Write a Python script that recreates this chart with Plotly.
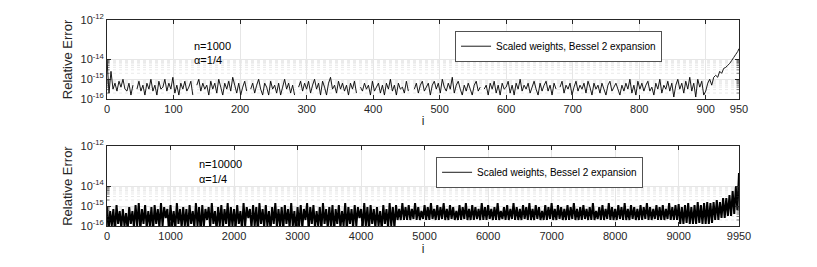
import plotly.graph_objects as go

# ---------------- data (log10 of relative error; None = exact zero / gap) ----------------
i_top = list(range(0, 949, 3)) + [950]
log_err_top = [
    -14.0, -15.7, -14.6, -15.5, -15.2, -15.6, -15.1, -15.4, -15.0, -15.5,
    -15.6, -15.2, -15.8, -15.3, None, -15.5, -15.1, -15.6, -15.3, -15.8,
    -15.2, -15.5, -15.0, -15.6, -15.3, -15.8, -15.1, -15.5, -15.4, -15.0,
    -15.6, -15.2, -15.5, -14.9, -15.7, -15.3, -15.8, -15.2, -15.5, -15.1,
    -15.6, -15.4, -15.1, -15.8, None, -15.3, -15.0, -15.6, -15.2, -15.5,
    -15.3, -15.8, -15.1, -15.5, -15.2, -15.7, -15.0, -15.4, -15.8, -15.2,
    -15.5, -15.1, -15.6, -14.9, -15.3, -15.7, -15.2, -15.8, -15.4, -15.1,
    -15.6, None, -15.5, -15.2, -15.7, -15.3, -15.0, -15.5, -15.8, -15.2,
    -15.4, -15.8, -15.1, -15.5, -15.3, -15.7, -15.2, -15.8, -15.4, -15.0,
    -15.5, -15.2, -15.7, -15.3, -15.8, None, -15.4, -15.1, -15.6, -15.2,
    -15.5, -15.1, -15.7, -15.3, -15.0, -15.5, -15.2, -15.8, -15.1, -15.4,
    -15.8, -15.2, -14.9, -15.5, -15.3, -15.7, -15.1, -15.5, -15.2, -15.6,
    -15.3, -15.8, -15.2, -15.5, -15.1, -15.7, None, -15.4, -15.6, -15.2,
    -15.5, -15.3, -15.8, -15.1, -15.6, -15.4, -15.2, -15.7, -15.3, -15.8,
    -15.2, -15.5, -15.0, -15.6, -15.3, -15.8, -15.2, -15.5, -15.4, -15.7,
    -15.1, -15.6, None, None, -15.5, -15.2, -15.7, -15.3, -15.1, -15.6,
    -15.4, -15.2, -15.8, -15.3, -15.1, -15.5, -15.2, -15.7, -15.0, -15.4,
    -15.6, -15.2, -15.5, -14.9, -15.7, -15.3, -15.1, -15.5, -15.8, -15.3,
    -15.6, -15.2, -15.5, -15.8, -15.3, -15.1, -15.6, -15.4, None, -15.5,
    -15.3, -15.8, -15.2, -15.5, -15.1, -15.7, -15.3, -15.8, -15.2, -15.5,
    -15.4, -15.1, -15.7, -15.3, -15.8, -15.2, -15.5, -15.0, -15.6, -15.3,
    -15.5, -15.2, -15.7, -15.4, -15.1, -15.5, -15.8, -15.2, -15.6, -15.3,
    -15.1, -15.6, -15.3, -15.8, -15.2, -15.5, None, -15.4, -15.1, -15.7,
    -15.3, -15.5, -15.2, -15.8, -15.4, -15.1, -15.6, -15.3, -15.5, -15.2,
    -15.7, -15.1, -15.4, -15.8, -15.2, -15.5, -15.3, -15.7, -15.2, -15.5,
    -15.8, -15.3, -15.1, -15.6, -15.4, -15.2, -15.5, -15.8, -15.3, -15.6,
    -15.2, -15.5, -15.0, -15.7, -15.3, -15.8, -15.1, -15.5, -15.2, -15.6,
    -15.3, -15.1, -15.6, -15.4, -15.8, -15.2, -15.5, -15.0, -15.7, -15.3,
    -15.5, -15.1, -15.6, -15.2, -15.9, -15.3, -15.0, -15.5, -15.2, -15.7,
    -15.1, -15.5, -14.9, -15.6, -15.2, -15.9, -15.0, -15.4, -15.1, -15.8,
    -15.6, -15.2, -15.0, -15.3, -14.9, -14.8, -14.9, -14.6, -14.7, -14.45,
    -14.4, -14.3, -14.2, -14.05, -13.9, -13.75, -13.6, -13.45,
]

i_bot = list(range(0, 9951, 25))
log_err_bot = [
    -15.05, -16.2, -15.25, -16.0, -15.15, -16.3, -14.95, -15.9, -15.25, -16.1,
    -15.15, -16.0, -15.35, -16.2, -15.05, -15.9, -15.25, -16.1, -14.95, -16.0,
    -14.85, -16.2, -15.15, -15.9, -14.95, -16.1, -15.25, -16.0, -15.05, -16.3,
    -14.95, -15.9, -15.15, -16.1, -14.85, -16.0, -15.05, -15.6, -15.15, -16.2,
    -14.95, -16.0, -15.25, -16.2, -14.85, -15.9, -15.15, -16.1, -15.05, -16.0,
    -15.15, -16.2, -14.95, -15.9, -15.25, -16.1, -14.85, -16.0, -15.05, -16.3,
    -14.95, -16.0, -15.15, -15.7, -15.05, -16.1, -14.85, -15.9, -15.25, -16.2,
    -15.05, -16.0, -14.95, -16.1, -15.15, -15.9, -14.85, -16.2, -15.05, -16.0,
    -15.15, -16.1, -14.95, -15.9, -15.25, -16.2, -14.85, -16.0, -15.05, -15.6,
    -15.15, -16.1, -14.95, -16.0, -15.05, -16.3, -14.85, -15.9, -15.15, -16.1,
    -14.95, -16.0, -15.25, -16.2, -15.05, -15.9, -14.85, -16.1, -15.15, -16.0,
    -15.05, -16.2, -14.95, -15.9, -15.15, -16.1, -14.85, -16.0, -15.25, -16.3,
    -15.05, -16.0, -14.95, -16.1, -15.15, -15.7, -14.85, -16.2, -15.05, -15.9,
    -14.95, -16.1, -15.25, -16.0, -15.05, -16.2, -14.85, -15.9, -15.15, -16.1,
    -15.05, -16.0, -14.95, -16.3, -15.15, -15.9, -14.95, -16.1, -15.25, -16.0,
    -14.85, -16.2, -15.05, -15.9, -15.15, -16.1, -14.95, -16.0, -15.05, -15.6,
    -15.15, -16.1, -14.85, -16.0, -15.05, -16.2, -14.95, -15.9, -15.15, -16.1,
    -15.05, -16.0, -15.25, -16.2, -14.95, -15.9, -15.15, -16.1, -14.85, -16.0,
    -15.05, -16.1, -14.95, -15.7, -15.15, -15.7, -14.85, -15.7, -15.05, -15.7,
    -14.95, -15.7, -15.15, -15.65, -14.85, -15.7, -15.05, -15.7, -15.25, -15.65,
    -14.95, -15.7, -15.05, -15.7, -14.85, -15.65, -15.15, -15.7, -14.95, -15.7,
    -15.05, -15.65, -14.85, -15.7, -15.15, -15.7, -14.95, -15.65, -15.05, -15.7,
    -15.25, -15.7, -14.95, -15.7, -15.05, -15.65, -14.85, -15.7, -15.15, -15.7,
    -14.95, -15.7, -15.05, -15.65, -15.15, -15.7, -14.85, -15.7, -15.05, -15.7,
    -14.95, -15.65, -15.15, -15.7, -15.05, -15.7, -14.85, -15.7, -15.25, -15.65,
    -15.05, -15.7, -14.95, -15.7, -15.15, -15.65, -14.85, -15.7, -15.05, -15.7,
    -15.15, -15.7, -14.95, -15.65, -15.05, -15.7, -14.85, -15.7, -15.15, -15.7,
    -14.95, -15.65, -15.05, -15.7, -15.25, -15.7, -14.95, -15.7, -15.05, -15.65,
    -14.85, -15.7, -15.15, -15.7, -14.95, -15.65, -15.05, -15.7, -15.15, -15.7,
    -14.95, -15.7, -15.05, -15.65, -14.85, -15.7, -15.15, -15.7, -15.05, -15.7,
    -14.95, -15.65, -15.15, -15.7, -15.05, -15.7, -14.85, -15.7, -15.25, -15.65,
    -15.05, -15.7, -14.95, -15.7, -15.15, -15.65, -14.85, -15.7, -15.05, -15.7,
    -15.15, -15.7, -14.95, -15.65, -15.05, -15.7, -14.85, -15.7, -15.15, -15.7,
    -14.95, -15.65, -15.05, -15.7, -15.15, -15.7, -14.95, -15.7, -15.05, -15.65,
    -14.85, -15.7, -15.05, -15.7, -15.15, -15.65, -14.95, -15.7, -15.05, -15.7,
    -14.95, -15.7, -15.15, -15.65, -14.85, -15.7, -15.05, -15.7, -14.95, -15.7,
    -14.9, -15.9, -15.05, -15.9, -14.95, -15.85, -14.85, -15.9, -15.05, -15.9,
    -14.95, -15.9, -14.8, -15.85, -14.95, -15.9, -14.85, -15.9, -14.8, -15.9,
    -14.85, -15.85, -14.8, -15.7, -14.7, -15.7, -14.8, -15.6, -14.6, -15.6,
    -14.6, -15.5, -14.45, -15.5, -14.25, -15.4, -14.05, -15.2, -13.35,
]

x_ticks_top = [0, 100, 200, 300, 400, 500, 600, 700, 800, 900, 950]
x_ticks_bot = [0, 1000, 2000, 3000, 4000, 5000, 6000, 7000, 8000, 9000, 9950]
y_tickvals = [1e-16, 1e-15, 1e-14, 1e-12]
y_ticktext = ["10<sup>-16</sup>", "10<sup>-15</sup>", "10<sup>-14</sup>", "10<sup>-12</sup>"]
minor_vals = [m * 1e-16 for m in range(2, 10)] + [m * 1e-15 for m in range(2, 10)]
legend_label = "Scaled weights, Bessel 2 expansion"

err_top = [None if v is None else 10 ** v for v in log_err_top]
err_bot = [None if v is None else 10 ** v for v in log_err_bot]

FONT = "Liberation Sans, Arial, Helvetica, sans-serif"
AX = "#262626"
GRID = "#e6e6e6"

fig = go.Figure()
fig.add_trace(go.Scatter(x=i_top, y=err_top, mode="lines", name=legend_label,
                         line=dict(color="black", width=0.9, simplify=False),
                         xaxis="x", yaxis="y", legend="legend", connectgaps=False))
# dense n=10000 series: heavier stroke so the band renders solid like the original
fig.add_trace(go.Scatter(x=i_bot, y=err_bot, mode="lines", name=legend_label,
                         line=dict(color="black", width=2.0, simplify=False),
                         xaxis="x2", yaxis="y2", showlegend=False, connectgaps=False))
# legend entry for the lower panel (thin line like the original legend)
fig.add_trace(go.Scatter(x=[None], y=[None], mode="lines", name=legend_label,
                         line=dict(color="black", width=0.9),
                         xaxis="x2", yaxis="y2", legend="legend2"))

common_x = dict(showline=True, mirror="ticks", linecolor=AX, linewidth=0.8,
                ticks="inside", ticklen=4, tickcolor=AX, tickwidth=0.8,
                showgrid=True, gridcolor=GRID, gridwidth=0.8, zeroline=False,
                automargin=False,
                tickfont=dict(size=11, color=AX, family=FONT),
                title=dict(text="i", font=dict(size=12, color=AX, family=FONT), standoff=2))
common_y = dict(type="log", range=[-16, -12], showline=True, mirror="ticks", linecolor=AX,
                linewidth=0.8, ticks="inside", ticklen=4, tickcolor=AX, tickwidth=0.8,
                tickvals=y_tickvals, ticktext=y_ticktext, showgrid=True, gridcolor=GRID,
                gridwidth=0.8, zeroline=False, automargin=False,
                tickfont=dict(size=11, color=AX, family=FONT),
                title=dict(text="Relative Error", font=dict(size=13, color=AX, family=FONT),
                           standoff=4))

# page body has an 8px margin, so the figure is 8px smaller and offset accordingly
fig.update_layout(
    width=809, height=259,
    margin=dict(l=99, r=78, t=12, b=41),
    paper_bgcolor="white", plot_bgcolor="white",
    font=dict(family=FONT, color=AX),
    xaxis=dict(common_x, domain=[0, 1], range=[0, 950], tickvals=x_ticks_top,
               ticktext=[str(v) for v in x_ticks_top], anchor="y"),
    yaxis=dict(common_y, domain=[0.6165, 1.0], anchor="x"),
    xaxis2=dict(common_x, domain=[0, 1], range=[0, 9950], tickvals=x_ticks_bot,
                ticktext=[str(v) for v in x_ticks_bot], anchor="y2"),
    yaxis2=dict(common_y, domain=[0.0, 0.388], anchor="x2"),
    legend=dict(x=0.551, y=0.947, xanchor="left", yanchor="top", bgcolor="white",
                bordercolor=AX, borderwidth=0.8, font=dict(size=10, color="black", family=FONT),
                itemwidth=30, tracegroupgap=0),
    legend2=dict(x=0.521, y=0.335, xanchor="left", yanchor="top", bgcolor="white",
                 bordercolor=AX, borderwidth=0.8, font=dict(size=10, color="black", family=FONT),
                 itemwidth=30, tracegroupgap=0),
    showlegend=True,
)

annotations = []
for (xpos, label, yn, ya2) in [(0.134, "n=1000", 0.874, 0.806),
                                (0.142, "n=10000", 0.301, 0.228)]:
    annotations.append(dict(xref="paper", yref="paper", x=xpos, y=yn, text=label,
                            showarrow=False, xanchor="left", yanchor="middle",
                            font=dict(size=11, color="black", family=FONT)))
    annotations.append(dict(xref="paper", yref="paper", x=xpos, y=ya2, text="α=1/4",
                            showarrow=False, xanchor="left", yanchor="middle",
                            font=dict(size=11, color="black", family=FONT)))
fig.update_layout(annotations=annotations)

shapes = []
for xr, yr in [("x domain", "y"), ("x2 domain", "y2")]:
    for v in minor_vals:
        shapes.append(dict(type="line", xref=xr, yref=yr, x0=0, x1=1, y0=v, y1=v,
                           line=dict(color="#dadada", width=0.6, dash="dot"), layer="below"))
        shapes.append(dict(type="line", xref=xr, yref=yr, x0=0, x1=0.004, y0=v, y1=v,
                           line=dict(color=AX, width=0.6), layer="above"))
        shapes.append(dict(type="line", xref=xr, yref=yr, x0=0.996, x1=1, y0=v, y1=v,
                           line=dict(color=AX, width=0.6), layer="above"))
fig.update_layout(shapes=shapes)

fig.write_html("out.html")
